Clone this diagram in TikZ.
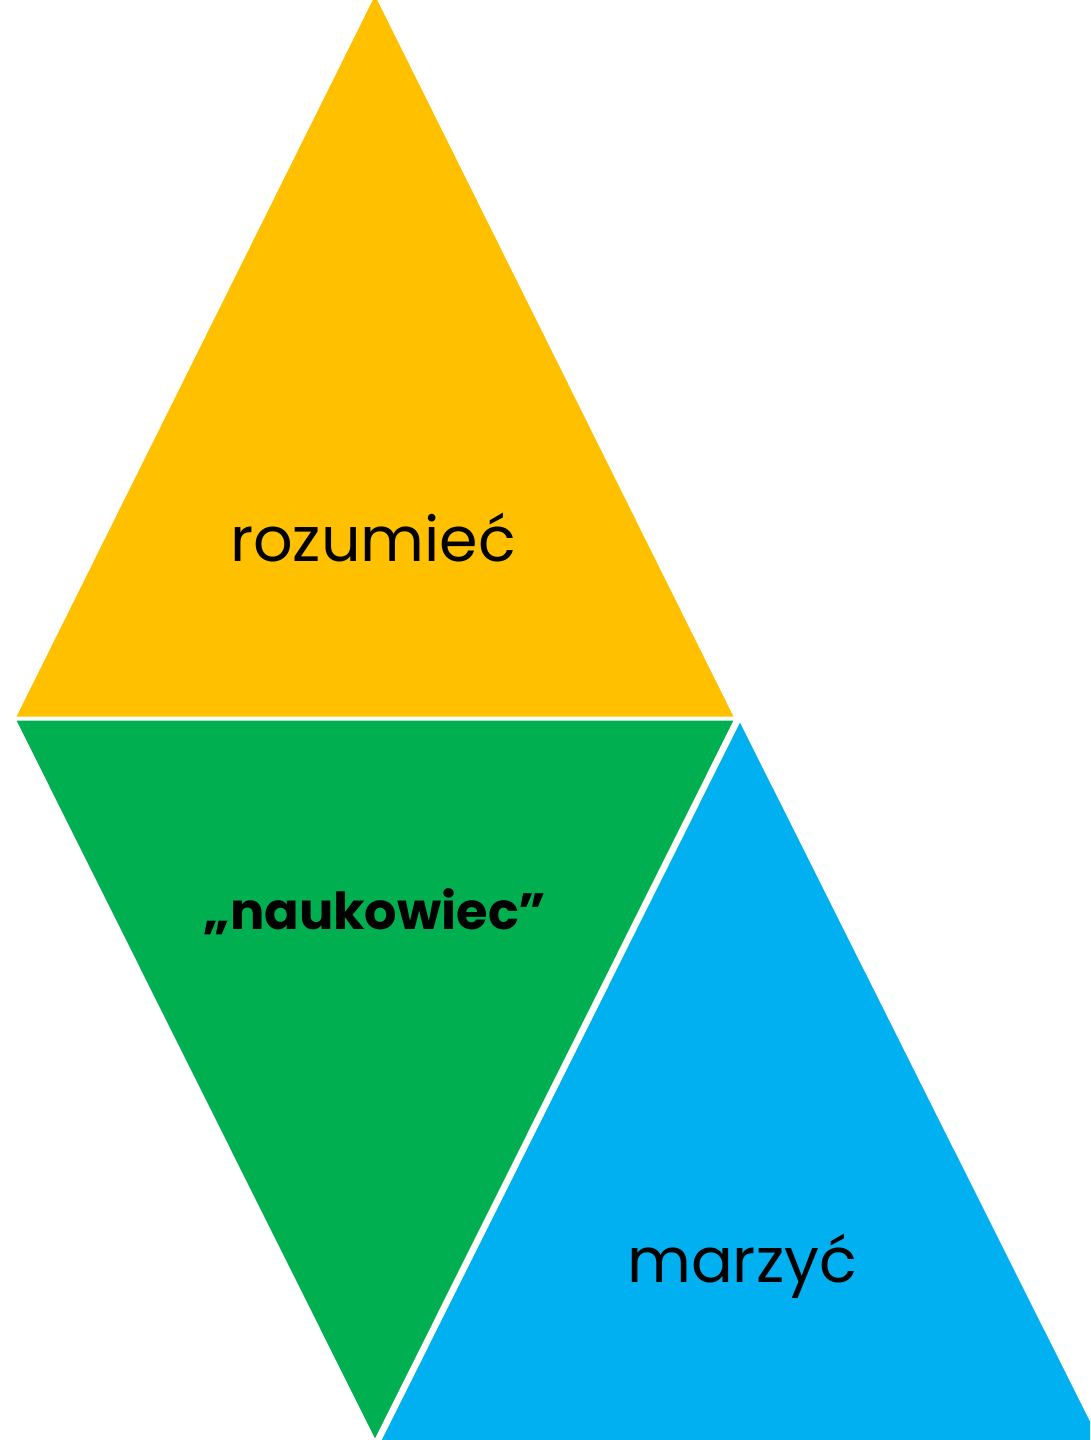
\documentclass[tikz,border=0pt]{standalone}
\usepackage{fontspec}
\setmainfont{Poppins}
\definecolor{tyellow}{HTML}{FFC000}
\definecolor{tgreen}{HTML}{00B050}
\definecolor{tblue}{HTML}{00B0F0}
\begin{document}
\begin{tikzpicture}[x=1pt,y=-1pt,
  tri/.style={draw=white,line width=3pt,line join=miter},
  lbl/.style={font=\fontsize{62}{70}\selectfont,text=black,inner sep=0pt,anchor=base}]
\useasboundingbox (0,0) rectangle (1090,1440);
\clip (0,0) rectangle (1090,1440);
\coordinate (yA) at (375,-8);
\coordinate (yL) at (14,718);
\coordinate (yR) at (736,718);
\coordinate (gL) at (14,719);
\coordinate (gR) at (736,719);
\coordinate (gB) at (375,1442);
\coordinate (bA) at (740,719);
\coordinate (bL) at (379,1442);
\coordinate (bR) at (1102,1442);
\fill[tyellow] (yA) -- (yL) -- (yR) -- cycle;
\fill[tgreen] (gL) -- (gR) -- (gB) -- cycle;
\fill[tblue] (bA) -- (bL) -- (bR) -- cycle;
\draw[tri] (yA) -- (yL) -- (yR) -- cycle;
\draw[tri] (gL) -- (gR) -- (gB) -- cycle;
\draw[tri] (bA) -- (bL) -- (bR) -- cycle;
\node[lbl] (t1) at (373,561) {rozumieć};
\node[lbl,font=\fontsize{51}{60}\selectfont\bfseries] (t2) at (375,929) {„naukowiec”};
\node[lbl] (t3) at (742,1282) {marzyć};
\end{tikzpicture}
\end{document}
